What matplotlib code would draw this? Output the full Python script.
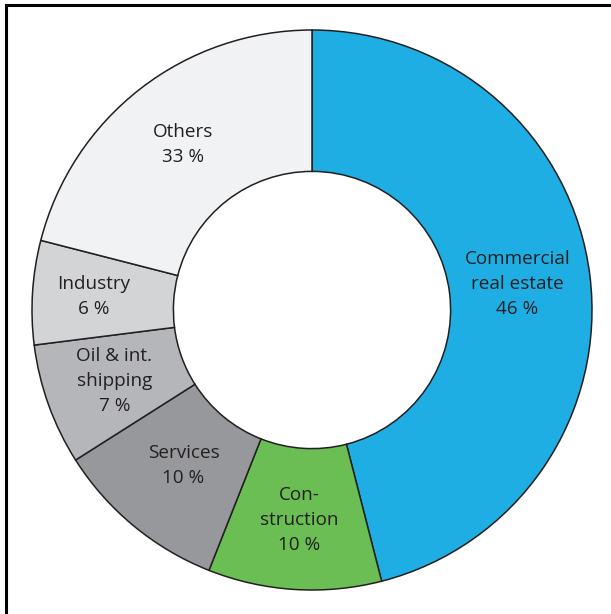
import matplotlib
matplotlib.use("Agg")
import matplotlib.pyplot as plt
from matplotlib.lines import Line2D
import numpy as np

categories = ["Commercial\nreal estate", "Con-\nstruction", "Services",
              "Oil & int.\nshipping", "Industry", "Others"]
slice_sizes = [46, 10, 10, 7, 6, 21]
label_pcts = ["46 %", "10 %", "10 %", "7 %", "6 %", "33 %"]
colors = ["#1EAEE4", "#6BBE54", "#97989B", "#B5B6B9", "#D3D4D6", "#F1F2F3"]
label_radius = [0.74, 0.75, 0.72, 0.75, 0.78, 0.75]

plt.rcParams['font.family'] = ['Open Sans', 'DejaVu Sans']

W, H = 611, 614
fig = plt.figure(figsize=(W / 100, H / 100), dpi=100)
cx, cy, R = 312, 310, 280
ax = fig.add_axes([(cx - R) / W, (H - cy - R) / H, 2 * R / W, 2 * R / H])

wedges, _ = ax.pie(slice_sizes, colors=colors, startangle=90, counterclock=False,
                   radius=1.0,
                   wedgeprops=dict(width=0.505, edgecolor="#231F20", linewidth=1.1))
ax.set_xlim(-1, 1)
ax.set_ylim(-1, 1)
ax.set_aspect("equal")
ax.axis("off")

for w, cat, pct, r in zip(wedges, categories, label_pcts, label_radius):
    mid = np.deg2rad((w.theta1 + w.theta2) / 2)
    ax.text(r * np.cos(mid), r * np.sin(mid), cat + "\n" + pct,
            ha="center", va="center", fontsize=13.6, color="#231F20",
            linespacing=1.5)

# frame (clipped on the right and bottom)
lw = 2.2
fig.add_artist(Line2D([6 / W, 6 / W], [0, 1 - 5 / H], transform=fig.transFigure,
                      color="black", linewidth=lw, solid_capstyle="projecting"))
fig.add_artist(Line2D([6 / W, 1], [1 - 5 / H, 1 - 5 / H], transform=fig.transFigure,
                      color="black", linewidth=lw, solid_capstyle="projecting"))

fig.savefig("out.png", dpi=100)
